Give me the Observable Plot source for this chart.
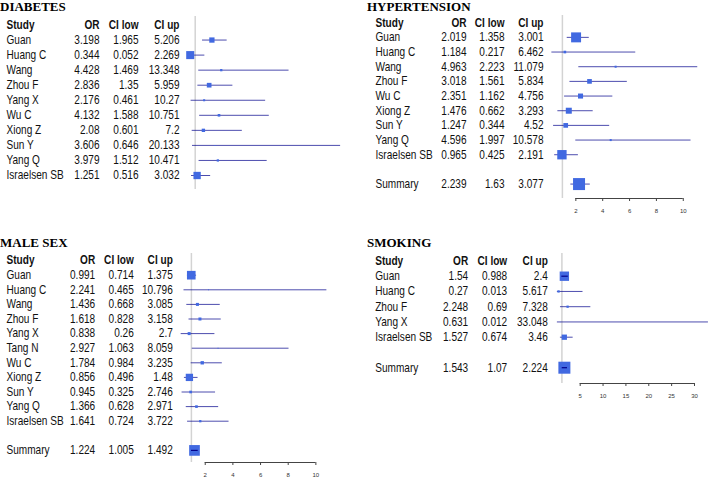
<!DOCTYPE html>
<html>
<head>
<meta charset="utf-8">
<script src="https://cdn.jsdelivr.net/npm/d3@7"></script>
<script src="https://cdn.jsdelivr.net/npm/@observablehq/plot@0.6"></script>
<style>
  html, body { margin: 0; padding: 0; background: #fff; }
  #wrap { position: relative; width: 709px; height: 480px; overflow: hidden; background: #fff; }
  .panel { position: absolute; }
  .title { position: absolute; font: bold 13px "Liberation Serif", "Times New Roman", serif; line-height: 13px; white-space: nowrap; color: #000; }
</style>
</head>
<body>
<div id="wrap"></div>
<script>
// ---------- DATA ----------
const columns = ["Study", "OR", "CI low", "CI up"];

// DIABETES
const diabetesStudy  = ["Guan", "Huang C", "Wang", "Zhou F", "Yang X", "Wu C", "Xiong Z", "Sun Y", "Yang Q", "Israelsen SB"];
const diabetesOR     = [3.198, 0.344, 4.428, 2.836, 2.176, 4.132, 2.08, 3.606, 3.979, 1.251];
const diabetesLow    = [1.965, 0.052, 1.469, 1.35, 0.461, 1.588, 0.601, 0.646, 1.512, 0.516];
const diabetesUp     = [5.206, 2.269, 13.348, 5.959, 10.27, 10.751, 7.2, 20.133, 10.471, 3.032];
const diabetesWeight = [0.44, 0.67, 0.19, 0.39, 0.17, 0.22, 0.28, 0.08, 0.19, 0.61];
const diabetesTicks  = [];

// HYPERTENSION
const hyperStudy  = ["Guan", "Huang C", "Wang", "Zhou F", "Wu C", "Xiong Z", "Sun Y", "Yang Q", "Israelsen SB"];
const hyperOR     = [2.019, 1.184, 4.963, 3.018, 2.351, 1.476, 1.247, 4.596, 0.965];
const hyperLow    = [1.358, 0.217, 2.223, 1.561, 1.162, 0.662, 0.344, 1.997, 0.425];
const hyperUp     = [3.001, 6.462, 11.079, 5.834, 4.756, 3.293, 4.52, 10.578, 2.191];
const hyperWeight = [0.83, 0.22, 0.17, 0.39, 0.42, 0.5, 0.39, 0.17, 0.78];
const hyperSummary = [2.239, 1.63, 3.077];
const hyperSummaryWeight = 1.0;
const hyperTicks  = [2, 4, 6, 8, 10];

// MALE SEX
const maleStudy  = ["Guan", "Huang C", "Wang", "Zhou F", "Yang X", "Tang N", "Wu C", "Xiong Z", "Sun Y", "Yang Q", "Israelsen SB"];
const maleOR     = [0.991, 2.241, 1.436, 1.618, 0.838, 2.927, 1.784, 0.856, 0.945, 1.366, 1.641];
const maleLow    = [0.714, 0.465, 0.668, 0.828, 0.26, 1.063, 0.984, 0.496, 0.325, 0.628, 0.724];
const maleUp     = [1.375, 10.796, 3.085, 3.158, 2.7, 8.059, 3.235, 1.48, 2.746, 2.971, 3.722];
const maleWeight = [0.72, 0.08, 0.25, 0.25, 0.25, 0.08, 0.28, 0.61, 0.22, 0.22, 0.19];
const maleSummary = [1.224, 1.005, 1.492];
const maleSummaryWeight = 0.89;
const maleTicks  = [2, 4, 6, 8, 10];

// SMOKING
const smokeStudy  = ["Guan", "Huang C", "Zhou F", "Yang X", "Israelsen SB"];
const smokeOR     = [1.54, 0.27, 2.248, 0.631, 1.527];
const smokeLow    = [0.988, 0.013, 0.69, 0.012, 0.674];
const smokeUp     = [2.4, 5.617, 7.328, 33.048, 3.46];
const smokeWeight = [0.78, 0.19, 0.19, 0.04, 0.44];
const smokeSummary = [1.543, 1.07, 2.224];
const smokeSummaryWeight = 1.0;
const smokeTicks  = [5, 10, 15, 20, 25, 30];

// ---------- LAYOUT ----------
const BOX = 12;          // box side (px) for weight 1
const SQUEEZE = 0.84;    // horizontal compression of table text
const TABLE_FONT = "'Liberation Sans', Arial, Helvetica, sans-serif";

const panels = [
  { title: "DIABETES", left: 0, top: 0, width: 355, titleX: 0, titleY: 11,
    study: diabetesStudy, or: diabetesOR, low: diabetesLow, up: diabetesUp, weight: diabetesWeight,
    summary: null, ticks: diabetesTicks,
    L: { cols: [6, 99, 138, 179], xZero: 194.7, unit: 7.6, rowTop: 24.5, rowStep: 15.05, frameTop: 16, frameBottom: 189 } },
  { title: "HYPERTENSION", left: 355, top: 0, width: 354, titleX: 12, titleY: 11,
    study: hyperStudy, or: hyperOR, low: hyperLow, up: hyperUp, weight: hyperWeight,
    summary: hyperSummary, summaryWeight: hyperSummaryWeight, ticks: hyperTicks,
    L: { cols: [20, 111, 149, 188], xZero: 206.9, unit: 13.43, rowTop: 22.2, rowStep: 14.67, frameTop: 15, frameBottom: 198 } },
  { title: "MALE SEX", left: 0, top: 240, width: 355, titleX: 0, titleY: 6.5,
    study: maleStudy, or: maleOR, low: maleLow, up: maleUp, weight: maleWeight,
    summary: maleSummary, summaryWeight: maleSummaryWeight, ticks: maleTicks,
    L: { cols: [6, 94.7, 133.3, 172.3], xZero: 190.9, unit: 13.83, rowTop: 20.1, rowStep: 14.6, frameTop: 13, frameBottom: 222 } },
  { title: "SMOKING", left: 355, top: 240, width: 354, titleX: 12, titleY: 6.5,
    study: smokeStudy, or: smokeOR, low: smokeLow, up: smokeUp, weight: smokeWeight,
    summary: smokeSummary, summaryWeight: smokeSummaryWeight, ticks: smokeTicks,
    L: { cols: [19.7, 112.7, 151.7, 192.3], xZero: 206.4, unit: 4.572, rowTop: 20.45, rowStep: 15.25, frameTop: 13, frameBottom: 143 } }
];

const wrap = document.getElementById("wrap");

function squeezeText(t) {
  const tr = t.getAttribute("transform");
  if (tr && /translate/.test(tr)) {
    t.setAttribute("transform", tr + ` scale(${SQUEEZE},1)`);
  } else {
    const x = +(t.getAttribute("x") || 0), y = +(t.getAttribute("y") || 0);
    t.setAttribute("transform", `translate(${x},${y}) scale(${SQUEEZE},1) translate(${-x},${-y})` + (tr ? " " + tr : ""));
  }
}

function buildPanel(p) {
  const L = p.L, H = 240;
  const rows = p.study.map((s, i) => ({ study: s, or: p.or[i], lo: p.low[i], hi: p.up[i], w: p.weight[i], row: i + 1 }));
  if (p.summary) rows.push({ study: "Summary", or: p.summary[0], lo: p.summary[1], hi: p.summary[2], w: p.summaryWeight, row: p.study.length + 2 });

  const half = d => d.w * BOX / 2;
  const inside = d => (d.hi - d.or) * L.unit < half(d) && (d.or - d.lo) * L.unit < half(d);

  const tt = { frameAnchor: "left", fontFamily: TABLE_FONT, fontSize: 12, fill: "#111" };
  const fields = ["study", "or", "lo", "hi"];

  const marks = [
    Plot.ruleX([1], { stroke: "#d3d3d3", strokeWidth: 1.5 }),
    Plot.ruleY(rows, { y: "row", x1: "lo", x2: "hi", stroke: "darkblue", strokeOpacity: 0.7, strokeWidth: 1 }),
    Plot.dot(rows, { x: "or", y: "row", r: "w", symbol: "square", fill: "royalblue" }),
    Plot.ruleY(rows.filter(inside), { y: "row", x1: "lo", x2: "hi", stroke: "darkblue", strokeWidth: 1.2 }),
    ...columns.map((c, j) => Plot.text([c], { ...tt, y: 0, text: d => d, dx: L.cols[j], textAnchor: j ? "end" : "start", fontWeight: "bold" })),
    ...fields.map((f, j) => Plot.text(rows, { ...tt, y: "row", text: d => String(d[f]), dx: L.cols[j], textAnchor: j ? "end" : "start" }))
  ];

  const axisRow = (L.frameBottom - L.rowTop) / L.rowStep;
  if (p.ticks.length) {
    marks.push(
      Plot.ruleY([axisRow], { x1: d3.min(p.ticks), x2: d3.max(p.ticks), stroke: "#444", strokeWidth: 1 }),
      Plot.axisX(p.ticks, { anchor: "bottom", tickSize: 3, tickPadding: 7, fontSize: 6, fontFamily: TABLE_FONT, stroke: "#444", fill: "#333", label: null, tickFormat: d => String(d) })
    );
  }

  const svg = Plot.plot({
    width: p.width,
    height: H,
    marginTop: L.frameTop,
    marginBottom: H - L.frameBottom,
    marginLeft: 0,
    marginRight: 0,
    x: { type: "linear", domain: [1, 2], range: [L.xZero, L.xZero + L.unit], label: null, ...(p.ticks.length ? {} : { axis: null }) },
    y: { type: "linear", domain: [0, 1], range: [L.rowTop, L.rowTop + L.rowStep], axis: null, label: null },
    r: { type: "linear", domain: [0, 1], range: [0, BOX / Math.sqrt(Math.PI)] },
    style: { background: "transparent", overflow: "visible" },
    marks
  });

  // condense table text horizontally about each text's anchor (axis labels excluded)
  svg.querySelectorAll("text").forEach(t => {
    const g = t.closest("g[aria-label]");
    const lab = g ? g.getAttribute("aria-label") : "";
    if (!/axis/.test(lab)) squeezeText(t);
  });

  const holder = document.createElement("div");
  holder.className = "panel";
  holder.style.left = p.left + "px";
  holder.style.top = p.top + "px";
  holder.appendChild(svg);
  wrap.appendChild(holder);

  const title = document.createElement("div");
  title.className = "title";
  title.textContent = p.title;
  title.style.left = (p.left + p.titleX) + "px";
  title.style.top = (p.top + p.titleY - 10.9) + "px";
  wrap.appendChild(title);
}

panels.forEach(buildPanel);
</script>
</body>
</html>
